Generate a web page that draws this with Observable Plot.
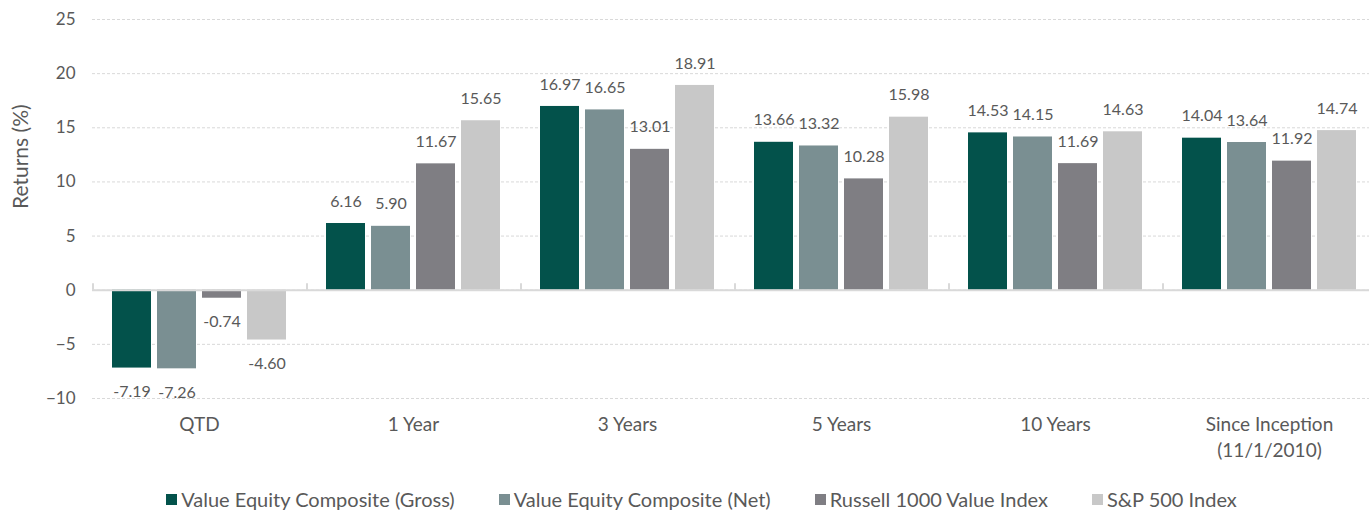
<!DOCTYPE html>
<html>
<head>
<meta charset="utf-8">
<script src="https://cdn.jsdelivr.net/npm/d3@7"></script>
<script src="https://cdn.jsdelivr.net/npm/@observablehq/plot@0.6"></script>
<style>
  html, body { margin: 0; padding: 0; background: #fff; overflow: hidden; }
  body { font-family: Lato, "Open Sans", sans-serif; color: #595959; }
  #chart svg { display: block; }
  #legend { display: flex; justify-content: center; align-items: center; gap: 0 44px;
            height: 22px; font-size: 20px; color: #595959; padding-left: 34px; }
  #legend .item { display: flex; align-items: center; white-space: nowrap; }
  #legend .sw { width: 11px; height: 11px; margin-right: 4px; display: inline-block; }
</style>
</head>
<body>
<div id="chart"></div>
<div id="legend"></div>
<script>
// ---- data ----
const periods = ["QTD", "1 Year", "3 Years", "5 Years", "10 Years", "Since Inception\n(11/1/2010)"];
const seriesNames = ["Value Equity Composite (Gross)", "Value Equity Composite (Net)", "Russell 1000 Value Index", "S&P 500 Index"];
const grossReturns   = [-7.19, 6.16, 16.97, 13.66, 14.53, 14.04];
const netReturns     = [-7.26, 5.90, 16.65, 13.32, 14.15, 13.64];
const russellReturns = [-0.74, 11.67, 13.01, 10.28, 11.69, 11.92];
const spReturns      = [-4.60, 15.65, 18.91, 15.98, 14.63, 14.74];
const yTicks = [-10, -5, 0, 5, 10, 15, 20, 25];
const yLabel = "Returns (%)";
const seriesColors = ["#03524b", "#7a8f92", "#7f7e83", "#c8c8c8"];

const seriesValues = [grossReturns, netReturns, russellReturns, spReturns];
const rows = [];
periods.forEach((p, i) => {
  seriesNames.forEach((s, j) => rows.push({period: p, series: s, value: seriesValues[j][i]}));
});

const textColor = "#595959";
const font = "Lato, 'Open Sans', sans-serif";

const chart = Plot.plot({
  width: 1369,
  height: 488,
  marginLeft: 92,
  marginRight: -7.5,
  marginTop: 19,
  marginBottom: 90,
  style: {fontFamily: font, fontSize: "17px", color: textColor, background: "#fff"},
  fx: {domain: periods, padding: 0, label: null},
  x: {domain: seriesNames, paddingInner: 0.139, paddingOuter: 0.427, axis: null},
  y: {domain: [-10, 25], label: null},
  color: {domain: seriesNames, range: seriesColors},
  marks: [
    Plot.gridY(yTicks, {stroke: "#d9d9d9", strokeOpacity: 1, strokeDasharray: "3,2"}),
    Plot.axisY(yTicks, {tickSize: 0, tickPadding: 17, label: null, fontSize: 17, fill: textColor}),
    Plot.text([{p: periods[0], t: yLabel}], {
      fx: "p", text: "t", frameAnchor: "left", rotate: -90, dx: -71,
      fontSize: 21, fill: textColor
    }),
    Plot.axisFx({anchor: "bottom", tickSize: 0, tickPadding: 14, label: null, fontSize: 19, lineHeight: 1.37, fill: textColor}),
    Plot.barY(rows, {fx: "period", x: "series", y: "value", fill: "series"}),
    Plot.ruleY([0], {stroke: "#d9d9d9", strokeWidth: 2}),
    Plot.ruleX(periods, {fx: d => d, x: () => seriesNames[0], y1: 0, y2: 0.6, dx: -39, stroke: "#d9d9d9", strokeWidth: 2}),
    Plot.text(rows.filter(d => d.value >= 0), {
      fx: "period", x: "series", y: "value", text: d => d.value.toFixed(2),
      dy: -22, fill: textColor, fontSize: 16
    }),
    Plot.text(rows.filter(d => d.value < 0), {
      fx: "period", x: "series", y: "value", text: d => d.value.toFixed(2),
      dy: 24, fill: textColor, fontSize: 16
    })
  ]
});
document.getElementById("chart").appendChild(chart);

const legend = document.getElementById("legend");
seriesNames.forEach((s, i) => {
  const item = document.createElement("div");
  item.className = "item";
  const sw = document.createElement("span");
  sw.className = "sw";
  sw.style.background = seriesColors[i];
  item.appendChild(sw);
  item.appendChild(document.createTextNode(s));
  legend.appendChild(item);
});
</script>
</body>
</html>
